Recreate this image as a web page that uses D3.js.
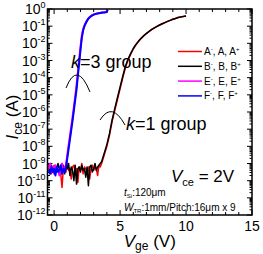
<!DOCTYPE html>
<html>
<head>
<meta charset="utf-8">
<script src="https://cdn.jsdelivr.net/npm/d3@7"></script>
<style>
  body { margin: 0; background: #fff; }
  svg { display: block; font-family: "Liberation Sans", Arial, sans-serif; }
</style>
</head>
<body>
<svg></svg>
<script>
var width = 263,
	height = 254;

// k=1 group (A, B): gate voltage grid and log10(Ice)
var vgeK1 = [-0.4,-0.3,-0.2,-0.1,0,0.1,0.2,0.3,0.4,0.5,
	0.6,0.7,0.8,0.9,1.0,1.1,1.2,1.3,1.4,1.5,
	1.6,1.7,1.8,1.9,2.0,2.1,2.2,2.3,2.4,2.5,
	2.6,2.7,2.8,2.9,3.0,3.1,3.2,3.3,3.4,3.5,
	3.6,3.8,4.0,4.2,4.4,4.6,4.8,5.0,5.2,5.4,5.6,5.8,6.0,6.2,6.4,6.6,6.8,
	7.0,7.2,7.4,7.6,7.8,8.0,8.2,8.4,8.6,8.8,9.0,9.2,9.4,9.6,9.8,10.0];
var logIceA = [-9.4,-9.2,-9.6,-9.3,-9.1,-9.5,-9.3,-9.4,-9.2,-9.6,
	-10.4,-9.3,-9.2,-9.5,-9.0,-9.4,-9.3,-9.9,-9.2,-9.1,
	-9.5,-9.3,-10.1,-9.2,-9.4,-9.0,-9.6,-9.2,-9.3,-9.5,
	-9.2,-9.9,-9.3,-9.1,-9.4,-9.2,-9.3,-9.7,-9.1,-9.2,
	-9.0,-8.5,-8.0,-7.35,-6.55,-5.9,-5.27,-4.65,-4.02,-3.42,-2.98,-2.64,-2.33,-2.09,-1.89,-1.71,-1.56,
	-1.43,-1.31,-1.2,-1.1,-1.01,-0.93,-0.86,-0.79,-0.72,-0.66,-0.6,-0.55,-0.5,-0.46,-0.43,-0.41];
var logIceB = [-9.2,-9.5,-9.1,-9.4,-9.3,-9.6,-9.2,-9.0,-9.5,-9.3,
	-9.4,-9.1,-9.6,-9.2,-9.3,-9.0,-9.7,-9.2,-9.4,-10.0,
	-9.1,-10.2,-9.3,-9.2,-9.5,-9.1,-9.4,-9.3,-9.8,-9.2,
	-10.3,-9.2,-9.1,-9.5,-9.3,-9.0,-9.4,-9.2,-9.1,-9.0,
	-8.9,-8.4,-7.9,-7.25,-6.45,-5.8,-5.17,-4.55,-3.93,-3.35,-2.93,-2.6,-2.3,-2.07,-1.87,-1.7,-1.55,
	-1.42,-1.3,-1.19,-1.1,-1.01,-0.93,-0.86,-0.79,-0.72,-0.66,-0.6,-0.55,-0.5,-0.46,-0.43,-0.41];

// k=3 group (E, F)
var vgeK3 = [-0.4,-0.3,-0.2,-0.1,0,0.1,0.2,0.3,0.4,0.5,0.6,0.7,0.8,0.9,
	1.0,1.1,1.2,1.3,1.4,1.5,1.6,1.7,1.8,1.9,2.0,2.1,2.2,2.3,2.4,2.5,
	2.6,2.7,2.8,2.9,3.0,3.2,3.4,3.6,3.8,4.0,4.05];
var logIceE = [-9.3,-9.0,-9.5,-9.2,-9.6,-9.1,-9.4,-9.3,-9.7,-9.2,-9.0,-9.5,-9.3,-9.1,
	-8.5,-7.95,-7.4,-6.85,-6.3,-5.7,-5.1,-4.45,-3.7,-2.95,-2.2,-1.55,-1.18,-0.96,-0.8,-0.66,
	-0.55,-0.47,-0.41,-0.36,-0.32,-0.27,-0.24,-0.21,-0.19,-0.17,-0.04];
var logIceF = [-9.4,-9.6,-9.2,-9.5,-9.3,-9.7,-9.2,-9.5,-9.4,-9.1,-9.6,-9.3,-9.5,-9.2,
	-8.7,-8.15,-7.6,-7.05,-6.5,-5.9,-5.3,-4.7,-3.9,-3.15,-2.4,-1.68,-1.25,-1.0,-0.83,-0.68,
	-0.56,-0.48,-0.42,-0.37,-0.33,-0.28,-0.25,-0.22,-0.2,-0.18,-0.05];

var series = [
	{name: "A", color: "#ff0000", x: vgeK1, y: logIceA, w: 1.5},
	{name: "B", color: "#000000", x: vgeK1, y: logIceB, w: 1.5},
	{name: "E", color: "#ff00ff", x: vgeK3, y: logIceE, w: 2},
	{name: "F", color: "#0000ff", x: vgeK3, y: logIceF, w: 2}
];

var xTicks = [0, 5, 10, 15];
var yDecades = [0,-1,-2,-3,-4,-5,-6,-7,-8,-9,-10,-11,-12];

var margin = {left: 47.5, right: 11, top: 9, bottom: 39};

var svg = d3.select("svg")
	.attr("width", width)
	.attr("height", height);

var x = d3.scaleLinear()
	.domain([-0.5, 15])
	.range([margin.left, width - margin.right]);
var y = d3.scaleLog()
	.domain([1e-12, 1])
	.range([height - margin.bottom, margin.top]);

var x0 = x.range()[0], x1 = x.range()[1];
var y0 = y.range()[0], y1 = y.range()[1];

// minor ticks
var xMinor = d3.range(0, 16, 1);
var yMinor = [];
yDecades.forEach(function(d) {
	if (d === 0) return;
	for (var m = 2; m < 10; m++) yMinor.push(m * Math.pow(10, d));
});

var ticks = svg.append("g").attr("stroke", "#000").attr("stroke-width", 1);
xMinor.forEach(function(v) {
	var len = xTicks.indexOf(v) >= 0 ? 5 : 3;
	ticks.append("line").attr("x1", x(v)).attr("x2", x(v)).attr("y1", y0).attr("y2", y0 - len);
	ticks.append("line").attr("x1", x(v)).attr("x2", x(v)).attr("y1", y1).attr("y2", y1 + len);
});
yDecades.forEach(function(d) {
	var p = y(Math.pow(10, d));
	ticks.append("line").attr("x1", x0).attr("x2", x0 + 5).attr("y1", p).attr("y2", p);
	ticks.append("line").attr("x1", x1).attr("x2", x1 - 5).attr("y1", p).attr("y2", p);
});
yMinor.forEach(function(v) {
	var p = y(v);
	ticks.append("line").attr("x1", x0).attr("x2", x0 + 2.5).attr("y1", p).attr("y2", p);
	ticks.append("line").attr("x1", x1).attr("x2", x1 - 2.5).attr("y1", p).attr("y2", p);
});

// tick labels
svg.append("g").selectAll("text")
	.data(xTicks)
	.enter()
	.append("text")
	.attr("x", function(d) { return x(d); })
	.attr("y", y0 + 16)
	.attr("text-anchor", "middle")
	.style("font-size", "14px")
	.text(function(d) { return d; });

var yl = svg.append("g").selectAll("text")
	.data(yDecades)
	.enter()
	.append("text")
	.attr("x", x0 - 2)
	.attr("y", function(d) { return y(Math.pow(10, d)) + 5; })
	.attr("text-anchor", "end")
	.style("font-size", "14px");
yl.append("tspan").text("10");
yl.append("tspan")
	.attr("dy", -6)
	.style("font-size", "9px")
	.text(function(d) { return d === 0 ? "0" : "-" + (-d); });

// curves
var line = d3.line()
	.x(function(d) { return x(d[0]); })
	.y(function(d) { return y(Math.pow(10, d[1])); });

svg.append("g").selectAll("path")
	.data(series)
	.enter()
	.append("path")
	.attr("d", function(s) { return line(d3.zip(s.x, s.y)); })
	.attr("fill", "none")
	.attr("stroke", function(s) { return s.color; })
	.attr("stroke-width", function(s) { return s.w; })
	.attr("stroke-linejoin", "round");

// frame
svg.append("rect")
	.attr("x", x0).attr("y", y1)
	.attr("width", x1 - x0).attr("height", y0 - y1)
	.attr("fill", "none")
	.attr("stroke", "#000")
	.attr("stroke-width", 1.5);

// legend
var legend = svg.append("g");
var legendRows = legend.selectAll("g")
	.data(series)
	.enter()
	.append("g")
	.attr("transform", function(d, i) { return "translate(178," + (51.5 + i * 14.8) + ")"; });
legendRows.append("line")
	.attr("x1", 0).attr("x2", 24)
	.attr("stroke", function(d) { return d.color; })
	.attr("stroke-width", 1.5);
var lt = legendRows.append("text")
	.attr("x", 26)
	.attr("y", 3.5)
	.style("font-size", "10px");
lt.append("tspan").text(function(d) { return d.name; });
lt.append("tspan").attr("dy", -4).style("font-size", "6px").text("-");
lt.append("tspan").attr("dy", 4).text(function(d) { return ", " + d.name + ", " + d.name; });
lt.append("tspan").attr("dy", -4).style("font-size", "6px").text("+");

// annotations
var ann = svg.append("g").attr("fill", "none").attr("stroke", "#000").attr("stroke-width", 1);
ann.append("path").attr("d", "M66,88 Q77,60 90,92");
ann.append("path").attr("d", "M100,120 Q112,101 125,125");

var k3 = svg.append("text").attr("x", 71).attr("y", 68).style("font-size", "18px");
k3.append("tspan").style("font-style", "italic").text("k");
k3.append("tspan").text("=3 group");

var k1 = svg.append("text").attr("x", 126).attr("y", 130).style("font-size", "18px");
k1.append("tspan").style("font-style", "italic").text("k");
k1.append("tspan").text("=1 group");

var vce = svg.append("text").attr("x", 171).attr("y", 182).style("font-size", "17px");
vce.append("tspan").style("font-style", "italic").text("V");
vce.append("tspan").attr("dy", 4).style("font-size", "11px").text("ce");
vce.append("tspan").attr("dy", -4).text(" = 2V");

var tsi = svg.append("text").attr("x", 124).attr("y", 196).style("font-size", "10px");
tsi.append("tspan").style("font-style", "italic").text("t");
tsi.append("tspan").attr("dy", 2).style("font-size", "6px").text("Si");
tsi.append("tspan").attr("dy", -2).text(":120\u03bcm");

var wtr = svg.append("text").attr("x", 124).attr("y", 211).style("font-size", "10px");
wtr.append("tspan").style("font-style", "italic").text("W");
wtr.append("tspan").attr("dy", 2).style("font-size", "6px").text("TR");
wtr.append("tspan").attr("dy", -2).text(":1mm/Pitch:16\u03bcm x 9");

// axis titles
var xt = svg.append("text")
	.attr("x", (x0 + x1) / 2)
	.attr("y", 247)
	.attr("text-anchor", "middle")
	.style("font-size", "17px");
xt.append("tspan").style("font-style", "italic").text("V");
xt.append("tspan").attr("dy", 3).style("font-size", "12px").text("ge");
xt.append("tspan").attr("dy", -3).text(" (V)");

var ytt = svg.append("text")
	.attr("transform", "translate(18," + 117 + ") rotate(-90)")
	.attr("text-anchor", "middle")
	.style("font-size", "17px");
ytt.append("tspan").style("font-style", "italic").text("I");
ytt.append("tspan").attr("dy", 4).style("font-size", "12px").text("ce");
ytt.append("tspan").attr("dy", -4).text(" (A)");
</script>
</body>
</html>
